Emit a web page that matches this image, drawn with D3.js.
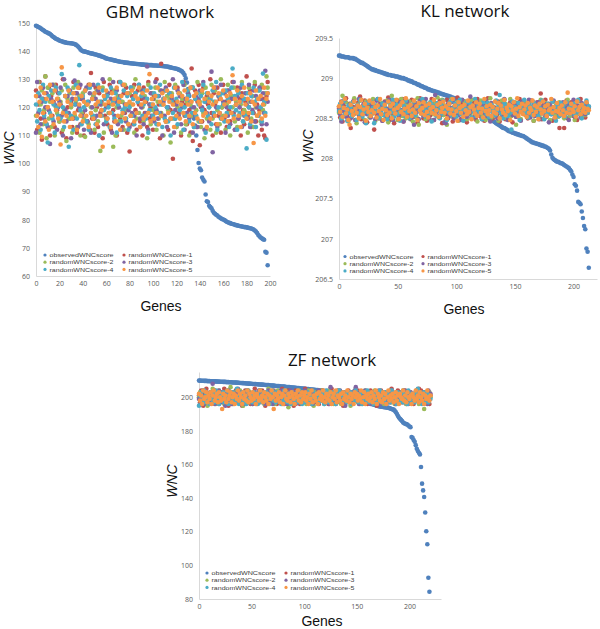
<!DOCTYPE html>
<html><head><meta charset="utf-8">
<script src="https://cdn.jsdelivr.net/npm/d3@7"></script>
<style>
body{margin:0;background:#fff;}
svg{display:block;font-family:"Open Sans",sans-serif;}
</style></head><body>
<svg id="chart" width="600" height="629"></svg>
<script>
// ---------- series names ----------
const seriesNames = ["observedWNCscore","randomWNCscore-1","randomWNCscore-2","randomWNCscore-3","randomWNCscore-4","randomWNCscore-5"];

// ---------- tick labels ----------
const gbmXTicks = [0,20,40,60,80,100,120,140,160,180,200];
const gbmYTicks = [60,70,80,90,100,110,120,130,140,150];
const klXTicks = [0,50,100,150,200];
const klYTicks = [206.5,207,207.5,208,208.5,209,209.5];
const zfXTicks = [0,50,100,150,200];
const zfYTicks = [80,100,120,140,160,180,200];

// ---------- GBM network ----------
const gbmObserved = [149,148.8,148.6,148.4,148.1,147.8,147.5,147.2,146.9,146.7,
146.5,146.3,146.1,145.7,145.3,145,144.7,144.4,144.2,144,
143.8,143.6,143.5,143.3,143.2,143.1,143,142.9,142.9,142.8,
142.8,142.7,142.6,142.5,142.3,142,141.6,141.2,140.6,140.2,
140,139.9,139.8,139.7,139.6,139.4,139.3,139.2,139.1,139,
138.9,138.8,138.7,138.5,138.4,138.3,138.1,138,137.8,137.6,
137.4,137.3,137.2,137.1,137,136.9,136.8,136.7,136.6,136.5,
136.4,136.3,136.2,136.1,136.1,136,135.9,135.9,135.8,135.8,
135.7,135.7,135.6,135.6,135.5,135.5,135.4,135.4,135.3,135.3,
135.2,135.2,135.2,135.1,135.1,135.1,135,135,135,135,
134.9,134.9,134.9,134.9,134.8,134.8,134.8,134.7,134.7,134.6,
134.6,134.5,134.5,134.4,134.3,134.2,134.1,134,133.9,133.8,
133.7,133.6,133.4,133.2,133,132.7,132.2,131.5,130.3,128.8,
126.5,124,122,120,118,116,113.5,110,104.8,100.2,
98.2,97.6,95,94.2,93.6,89,86.6,86.3,85,84.5,
84.1,83.2,82.5,82.1,81.8,81.5,81.1,80.8,80.5,80.3,
80.1,79.9,79.6,79.3,79.1,78.9,78.8,78.6,78.5,78.4,
78.2,78.1,78,77.9,77.8,77.7,77.6,77.5,77.4,77.4,
77.3,77.2,77.1,77,76.9,76.7,76.5,76.2,75.8,75.3,
74.6,74.1,73.7,73.4,73.1,72.9,68.6,68.3,63.8];
const gbmRandom1 = [126,112,121,129,116,108.5,123,118,131,114,
120,127,110,124,117,122,113,128,119,125,
115,121,111,130,118,124,109,120,126,116,
122,113,129,117,125,111,119,127,114,123,
118,110,126,121,115,128,112,132.2,116,124,
111,127,120,113,125,118,122,109,129,117,
124,114,121,128,112,126,119,115,123,110,
120,129,116,122,113,125,118,127,111,121,
104.3,117,124,114,128,119,112,126,121,115,
123,110,127,118,122,113,129,116,120,125,
112,124,118,130,114,121,109,135.5,117,123,
126,115,120,112,128,119,124,101.7,122,116,
113,127,118,124,110,122,129,117,121,114,
125,119,111,133.8,108,118,126,113,122,128,
106.5,120,115,127,119,112,124,121,116,130,
118,110,125,121,114,127,117,123,111,120,
128,116,122,113,126,119,115,124,129,118,
112,121,127,116,123,110,125,119,114,122,
131,117,120,126,113,124,118,128,115,121,
110,119,127,112,123,110,109,124,129];
const gbmRandom2 = [117,124,129,111,121,126,114,119,131,109,
127,116,122,113,125,128,110,120,118,123,
115,122,126,112,119,128,108,123,116,125,
120,111,127,117,122,113,129,124,110,118,
125,116,109.5,121,127,114,128,120,117,124,
112,119,126,115,122,104.5,121,127,111,123,
116,125,118,130,113,121,106,126,110,120,
124,115,129,117,122,112,128,119,121,114,
125,117,121,127,111,130,116,123,118,113,
126,120,115,124,117,109,128,121,114,125,
119,123,127,112,122,116,126,118,121,110,
129,115,124,119,123,107.5,125,116,121,128,
113,120,117,125,111,123,118,128,114,122,
126,110,121,117,127,113,124,119,129,115,
122,113,125,118,109,127,116,123,120,112,
128,116,122,126,111,119,124,114,130,120,
117,125,112,121,128,118,110,124,120,127,
115,122,113,126,117,121,129,115,119,125,
118,111,127,122,116,124,113,129,120,117,
126,123,115,128,119,121,125,131,127];
const gbmRandom3 = [111,129,118,124,114,122,127,116,120,125,
113,119,107,123,128,115,121,126,112,120,
122,127,117,110,130,119,115,124,118,126,
109,123,116,129.5,121,125,113,120,128,117,
123,112,119,127,115,122,125,111,120,128,
116,123,117,126,110,121,119,130,114,124,
120,116,125,118,123,111,129,117,122,126,
114,120,124,112,128,118,121,115,125,119,
113,127,118,123,117,125,110,122,128,116,
120,126,114,123,118,134.5,112,121,125,117,
123,115,129,119,116,124,118,126,110,122,
117,127,113,120,125,116,123,130,111,119,
121,126,117,124,114,120,128,112,123,118,
125,116,122,127,111,120,117,124,113,123,
126,115,120,129,112,122,118,125,115,123,
132.7,104,117,127,120,113,124,118,128,116,
122,125,111,120,117,126,114,123,118,129,
112,121,124,116,120,127,113,123,117,125,
121,116,128,113,122,119,126,115,124,120,
117,127,123,114,125,118,133,114,122];
const gbmRandom4 = [121,115,125,119,112,123,128,117,122,114,
107.5,124,118,126,116,121,111,127,120,117,
125,116,131.8,120,113,124,118,127,106,122,
117,125,112,121,128,116,123,135,119,114,
124,120,126,115,122,112,127,118,123,117,
125,114,121,128,110,122,117,126,119,123,
115,124,120,113,127,118,122,116,125,111,
121,123,129,115,119,126,120,116,124,112,
120,127,117,123,114,125,118,122,128,113,
124,117,121,126,116,123,111,119,127,121,
117,125,120,114,124,118,128,121,113,123,
116,126,120,115,125,110,122,118,127,116,
123,114,125,119,121,129,112,120,117,126,
124,115,122,118,127,113,123,117,125,121,
115,124,119,128,122,111,125,117,120,123,
114,126,118,122,129,112,120,124,116,125,
121,115,126,118,123,113,120,127,133.8,117,
124,119,112,125,118,122,128,115,123,117,
105.4,125,120,114,124,118,127,122,113,123,
117,126,120,115,132,122,118,108.5,125];
const gbmRandom5 = [124,117,113,122,127,109.5,118,125,115,123,
120,112,128,117,122,114,126,119,123,116,
121,106.8,134.2,118,115,124,117,122,126,113,
121,116,125,118,123,112,127,121,117,124,
115,122,126,117,121,113,128,118,123,116,
125,121,114,122,127,117,119,106,124,121,
126,116,122,118,113,125,121,123,115,127,
117,122,112,124,118,128,116,121,125,114,
122,117,126,121,115,124,118,123,127,113,
121,125,116,122,117,126,118,131.8,115,123,
121,116,124,118,127,114,122,117,125,121,
123,115,126,118,122,116,124,121,113,127,
117,122,125,116,121,124,118,126,115,123,
121,117,127,122,114,124,118,125,116,122,
121,115,126,117,123,118,113,125,122,116,
124,121,127,117,122,114,125,118,123,116,
126,121,117,124,115,122,125,118,131.4,116,
123,121,126,117,122,113,124,118,127,121,
116,123,118,125,115,122,107.3,121,126,117,
123,118,124,116,121,127,117,123,125];

// ---------- KL network ----------
const klObserved = [209.28,209.28,209.27,209.27,209.27,209.26,209.26,209.26,209.26,209.25,
209.25,209.25,209.25,209.24,209.24,209.23,209.22,209.21,209.2,209.19,
209.19,209.18,209.17,209.16,209.15,209.14,209.13,209.12,209.11,209.11,
209.1,209.1,209.09,209.09,209.08,209.08,209.07,209.07,209.06,209.06,
209.05,209.05,209.04,209.04,209.04,209.03,209.03,209.03,209.02,209.02,
209.02,209.01,209.01,209,209,209,208.99,208.99,208.98,208.97,
208.97,208.96,208.96,208.95,208.94,208.94,208.93,208.92,208.92,208.91,
208.9,208.9,208.89,208.88,208.88,208.87,208.86,208.86,208.85,208.85,
208.84,208.84,208.83,208.83,208.82,208.82,208.81,208.81,208.8,208.8,
208.79,208.79,208.78,208.78,208.77,208.77,208.76,208.76,208.75,208.75,
208.74,208.74,208.73,208.73,208.72,208.71,208.71,208.7,208.69,208.69,
208.68,208.67,208.66,208.65,208.64,208.63,208.62,208.61,208.6,208.59,
208.58,208.57,208.56,208.55,208.54,208.53,208.52,208.51,208.5,208.49,
208.48,208.47,208.46,208.45,208.44,208.43,208.42,208.41,208.4,208.39,
208.38,208.38,208.37,208.36,208.35,208.34,208.34,208.33,208.32,208.32,
208.31,208.31,208.3,208.3,208.29,208.29,208.28,208.28,208.27,208.26,
208.25,208.24,208.23,208.22,208.21,208.2,208.2,208.19,208.19,208.18,
208.18,208.17,208.17,208.16,208.16,208.15,208.15,208.14,208.13,208.12,
208.1,208.05,208.01,207.99,207.98,207.97,207.96,207.96,207.95,207.94,
207.94,207.93,207.92,207.91,207.9,207.89,207.88,207.86,207.84,207.8,
207.77,207.68,207.66,207.6,207.46,207.45,207.43,207.34,207.26,207.16,
207.12,206.88,206.84,206.64];
const klRandom1 = [208.62,208.51,208.71,208.46,208.66,208.57,208.75,208.53,208.6,208.68,
208.38,208.58,208.64,208.73,208.48,208.61,208.69,208.54,208.77,208.49,
208.65,208.56,208.72,208.59,208.45,208.67,208.62,208.52,208.7,208.58,
208.36,208.63,208.55,208.74,208.5,208.68,208.59,208.47,208.65,208.71,
208.53,208.61,208.76,208.48,208.66,208.56,208.69,208.44,208.63,208.58,
208.72,208.51,208.67,208.6,208.74,208.46,208.62,208.55,208.7,208.57,
208.64,208.49,208.73,208.59,208.52,208.68,208.61,208.45,208.66,208.75,
208.56,208.63,208.5,208.71,208.58,208.47,208.67,208.62,208.54,208.74,
208.6,208.48,208.69,208.57,208.65,208.52,208.72,208.59,208.44,208.66,
208.61,208.55,208.73,208.5,208.64,208.58,208.7,208.46,208.62,208.68,
208.53,208.76,208.57,208.63,208.49,208.67,208.6,208.71,208.55,208.45,
208.65,208.59,208.72,208.51,208.62,208.69,208.54,208.48,208.74,208.58,
208.66,208.52,208.61,208.7,208.47,208.63,208.57,208.75,208.53,208.67,
208.6,208.5,208.64,208.58,208.81,208.55,208.71,208.46,208.62,208.68,
208.57,208.73,208.49,208.65,208.6,208.54,208.7,208.63,208.45,208.66,
208.59,208.52,208.69,208.61,208.74,208.48,208.64,208.56,208.71,208.58,
208.63,208.5,208.67,208.55,208.72,208.6,208.47,208.65,208.58,208.7,
208.54,208.62,208.81,208.49,208.66,208.59,208.73,208.52,208.61,208.68,
208.56,208.64,208.47,208.71,208.58,208.63,208.53,208.69,208.38,208.6,
208.66,208.55,208.38,208.62,208.72,208.5,208.64,208.57,208.7,208.59,
208.53,208.67,208.61,208.48,208.65,208.58,208.74,208.55,208.63,208.6,
208.51,208.68,208.57,208.64];
const klRandom2 = [208.57,208.66,208.49,208.78,208.61,208.54,208.7,208.59,208.46,208.64,
208.68,208.52,208.62,208.75,208.56,208.44,208.67,208.6,208.72,208.53,
208.59,208.65,208.48,208.71,208.57,208.63,208.51,208.69,208.55,208.74,
208.62,208.47,208.66,208.58,208.73,208.5,208.61,208.69,208.54,208.64,
208.56,208.72,208.45,208.6,208.67,208.78,208.52,208.63,208.58,208.7,
208.48,208.65,208.59,208.74,208.53,208.61,208.68,208.5,208.66,208.57,
208.71,208.55,208.63,208.46,208.69,208.6,208.52,208.75,208.42,208.62,
208.58,208.67,208.53,208.72,208.49,208.64,208.6,208.56,208.7,208.47,
208.63,208.55,208.68,208.59,208.76,208.51,208.62,208.57,208.73,208.54,
208.66,208.48,208.42,208.61,208.69,208.56,208.74,208.52,208.64,208.59,
208.6,208.7,208.47,208.65,208.57,208.63,208.53,208.71,208.58,208.49,
208.67,208.61,208.55,208.73,208.5,208.64,208.59,208.68,208.46,208.62,
208.57,208.72,208.54,208.6,208.66,208.48,208.7,208.56,208.63,208.75,
208.51,208.65,208.58,208.61,208.53,208.69,208.47,208.64,208.6,208.72,
208.55,208.62,208.68,208.5,208.66,208.58,208.74,208.53,208.61,208.57,
208.7,208.42,208.64,208.56,208.67,208.49,208.63,208.59,208.72,208.54,
208.61,208.68,208.52,208.65,208.58,208.71,208.47,208.62,208.56,208.66,
208.6,208.53,208.73,208.57,208.64,208.5,208.69,208.55,208.62,208.67,
208.48,208.63,208.59,208.71,208.54,208.66,208.58,208.52,208.7,208.61,
208.57,208.64,208.5,208.68,208.56,208.73,208.6,208.53,208.65,208.59,
208.62,208.48,208.67,208.55,208.71,208.58,208.64,208.51,208.66,208.6,
208.54,208.69,208.57,208.63];
const klRandom3 = [208.64,208.55,208.46,208.69,208.59,208.73,208.52,208.62,208.57,208.67,
208.5,208.61,208.71,208.56,208.48,208.65,208.59,208.74,208.53,208.63,
208.58,208.68,208.45,208.62,208.55,208.7,208.6,208.51,208.66,208.57,
208.63,208.49,208.72,208.58,208.54,208.67,208.61,208.47,208.65,208.7,
208.55,208.62,208.52,208.73,208.59,208.64,208.48,208.68,208.57,208.61,
208.66,208.53,208.7,208.6,208.56,208.46,208.63,208.58,208.71,208.54,
208.6,208.67,208.51,208.64,208.42,208.69,208.57,208.62,208.49,208.72,
208.58,208.65,208.53,208.61,208.74,208.56,208.63,208.5,208.67,208.59,
208.62,208.48,208.79,208.55,208.66,208.6,208.52,208.7,208.57,208.64,
208.45,208.44,208.61,208.68,208.53,208.63,208.58,208.71,208.5,208.65,
208.59,208.67,208.54,208.62,208.48,208.73,208.57,208.64,208.6,208.52,
208.68,208.56,208.77,208.59,208.63,208.51,208.66,208.58,208.7,208.55,
208.61,208.64,208.49,208.67,208.57,208.72,208.53,208.6,208.65,208.46,
208.69,208.58,208.62,208.55,208.71,208.5,208.64,208.59,208.67,208.53,
208.6,208.74,208.56,208.63,208.48,208.66,208.58,208.7,208.54,208.61,
208.65,208.52,208.68,208.59,208.63,208.47,208.71,208.57,208.62,208.66,
208.55,208.6,208.73,208.51,208.64,208.58,208.69,208.53,208.62,208.57,
208.7,208.49,208.65,208.6,208.56,208.68,208.52,208.63,208.59,208.45,
208.67,208.55,208.61,208.72,208.5,208.64,208.58,208.66,208.53,208.62,
208.59,208.7,208.54,208.63,208.57,208.68,208.48,208.61,208.65,208.56,
208.73,208.52,208.6,208.66,208.58,208.63,208.51,208.69,208.57,208.62,
208.55,208.67,208.6,208.64];
const klRandom4 = [208.59,208.68,208.5,208.63,208.72,208.55,208.61,208.47,208.66,208.57,
208.64,208.53,208.7,208.58,208.62,208.48,208.67,208.56,208.73,208.6,
208.52,208.65,208.58,208.44,208.69,208.61,208.55,208.71,208.57,208.63,
208.44,208.66,208.59,208.74,208.51,208.62,208.57,208.68,208.54,208.65,
208.6,208.49,208.7,208.56,208.64,208.58,208.73,208.52,208.61,208.67,
208.55,208.63,208.47,208.69,208.59,208.66,208.53,208.72,208.58,208.62,
208.5,208.67,208.6,208.56,208.71,208.54,208.64,208.48,208.65,208.59,
208.62,208.74,208.55,208.61,208.52,208.68,208.57,208.63,208.7,208.46,
208.66,208.58,208.64,208.53,208.69,208.6,208.5,208.67,208.56,208.72,
208.59,208.63,208.48,208.65,208.57,208.71,208.54,208.62,208.6,208.68,
208.52,208.66,208.58,208.73,208.55,208.61,208.47,208.64,208.59,208.7,
208.56,208.62,208.68,208.51,208.65,208.58,208.74,208.53,208.6,208.66,
208.57,208.63,208.49,208.7,208.59,208.64,208.55,208.69,208.52,208.61,
208.67,208.58,208.62,208.54,208.72,208.6,208.65,208.79,208.56,208.63,
208.5,208.68,208.59,208.66,208.53,208.62,208.57,208.36,208.71,208.58,
208.64,208.55,208.61,208.69,208.48,208.65,208.6,208.56,208.73,208.57,
208.62,208.51,208.67,208.59,208.64,208.54,208.7,208.58,208.61,208.66,
208.53,208.63,208.57,208.72,208.6,208.49,208.65,208.56,208.68,208.59,
208.62,208.55,208.71,208.58,208.64,208.47,208.67,208.61,208.53,208.69,
208.57,208.65,208.6,208.52,208.7,208.58,208.63,208.55,208.66,208.61,
208.68,208.54,208.62,208.59,208.73,208.56,208.64,208.5,208.67,208.58,
208.63,208.72,208.57,208.65];
const klRandom5 = [208.65,208.58,208.7,208.52,208.63,208.74,208.56,208.61,208.48,208.42,
208.67,208.59,208.54,208.71,208.62,208.57,208.66,208.5,208.64,208.73,
208.55,208.61,208.68,208.47,208.63,208.58,208.72,208.53,208.6,208.69,
208.57,208.64,208.51,208.66,208.59,208.74,208.55,208.62,208.48,208.67,
208.6,208.54,208.71,208.57,208.65,208.5,208.68,208.61,208.56,208.73,
208.63,208.49,208.66,208.58,208.7,208.55,208.62,208.75,208.52,208.64,
208.59,208.67,208.53,208.61,208.72,208.57,208.65,208.48,208.69,208.6,
208.56,208.63,208.7,208.54,208.66,208.58,208.51,208.68,208.62,208.57,
208.64,208.73,208.55,208.6,208.67,208.52,208.69,208.58,208.63,208.71,
208.57,208.65,208.5,208.62,208.68,208.56,208.61,208.74,208.54,208.66,
208.59,208.47,208.7,208.63,208.57,208.65,208.52,208.67,208.6,208.55,
208.72,208.58,208.64,208.49,208.66,208.61,208.56,208.7,208.53,208.63,
208.68,208.57,208.62,208.51,208.74,208.59,208.65,208.55,208.6,208.67,
208.53,208.64,208.58,208.71,208.56,208.62,208.69,208.5,208.66,208.61,
208.57,208.73,208.54,208.63,208.59,208.67,208.48,208.65,208.6,208.7,
208.56,208.62,208.75,208.53,208.64,208.58,208.68,208.55,208.61,208.66,
208.52,208.69,208.57,208.63,208.6,208.72,208.54,208.66,208.58,208.64,
208.49,208.68,208.61,208.56,208.71,208.59,208.65,208.53,208.67,208.6,
208.62,208.74,208.57,208.64,208.51,208.59,208.69,208.58,208.63,208.55,
208.66,208.6,208.53,208.7,208.57,208.82,208.62,208.56,208.68,208.61,
208.58,208.65,208.52,208.71,208.6,208.64,208.55,208.67,208.59,208.63,
208.57,208.7,208.62,208.6];

// ---------- ZF network ----------
const zfObserved = [209.9,209.9,209.8,209.8,209.8,209.7,209.7,209.7,209.6,209.6,
209.6,209.5,209.5,209.5,209.4,209.4,209.4,209.3,209.3,209.3,
209.2,209.2,209.2,209.1,209.1,209.1,209,209,209,208.9,
208.9,208.9,208.8,208.8,208.8,208.7,208.7,208.6,208.6,208.5,
208.5,208.4,208.4,208.3,208.3,208.2,208.2,208.1,208.1,208,
208,207.9,207.9,207.8,207.8,207.7,207.7,207.6,207.6,207.5,
207.5,207.4,207.4,207.3,207.3,207.2,207.2,207.1,207,207,
206.9,206.9,206.8,206.7,206.7,206.6,206.6,206.5,206.4,206.4,
206.3,206.3,206.2,206.1,206.1,206,206,205.9,205.8,205.8,
205.7,205.6,205.6,205.5,205.4,205.4,205.3,205.2,205.2,205.1,
205,205,204.9,204.8,204.8,204.7,204.6,204.6,204.5,204.4,
204.4,204.3,204.2,204.2,204.1,204,203.9,203.9,203.8,203.7,
203.6,203.6,203.5,203.4,203.3,203.2,203.2,203.1,203,202.9,
202.8,202.7,202.6,202.5,202.4,202.3,202.2,202.1,202,201.9,
201.8,201.6,201.5,201.3,201.2,201,200.8,200.6,200.4,200.2,
200,199.8,199.6,199.3,199,198.7,198.4,198.1,197.8,197.5,
197.2,196.9,196.6,196.3,196,195.8,195.6,195.4,195.2,195,
194.8,194.7,194.5,194.4,194.3,194.2,194.1,194,193.9,193.8,
193.7,193.5,193.3,193,192.8,192.6,192,191.2,190.2,189,
187.9,187.2,186.5,185.8,185,184.5,184.2,184,183.8,183.2,
182.6,182.2,176.3,175.8,174.6,173.5,171.5,169.4,168,167,
166,158.5,148.6,144.6,140.7,131.4,120.3,112.6,92.6,84.3];
const zfRandom1 = [201,197,204,199,195,202,200,205,198,201,
196,203,199,201,197,204,200,198,202,196,
199,203,201,197,205,200,198,202,195,201,
203,199,196,202,200,204,197,201,199,203,
198,195,202,200,204,199,197,201,203,196,
200,202,198,205,199,196,201,203,197,200,
204,198,201,195,202,199,203,197,200,201,
197,204,199,202,196,200,203,198,201,205,
199,196,202,200,197,204,198,201,203,199,
195,201,204,198,200,202,196,199,203,201,
198,205,200,197,202,199,201,196,204,200,
197,202,199,203,196,201,198,204,200,197,
203,199,201,196,202,200,205,198,199,203,
196,201,204,199,197,202,200,195,203,198,
201,199,204,197,200,202,196,201,203,199,
198,204,200,196,202,199,201,197,203,200,
196,202,199,204,198,201,197,203,200,195,
202,199,201,204,197,200,198,203,196,201,
199,203,197,205,200,198,202,196,201,204,
198,200,203,197,201,199,204,196,202,200,
197,203,199,201,196,202,200,198,204,205,
199,204,197,201,199,203,198,200,202,196,
201];
const zfRandom2 = [200,203,196,201,204,198,199,202,195,201,
197,203,200,205,198,201,196,202,199,204,
197,201,203,199,196,202,200,198,204,201,
206,198,202,196,200,203,199,201,197,204,
199,202,195,201,203,198,200,204,197,202,
199,196,203,201,198,202,200,197,204,199,
201,203,196,200,202,198,205,199,201,197,
203,200,196,202,199,204,198,201,200,196,
202,199,204,197,201,194,203,199,200,202,
196,201,203,198,200,204,197,202,199,201,
198,203,196,201,204,199,197,202,200,195,
203,199,201,197,202,200,204,198,201,196,
200,202,199,204,197,201,198,203,196,200,
202,198,201,204,199,196,203,200,198,202,
197,201,203,199,195,202,200,198,204,201,
199,197,202,200,203,196,201,199,204,198,
201,203,197,200,202,199,196,204,201,198,
203,200,197,202,199,201,196,203,200,198,
202,199,204,197,201,200,196,203,198,201,
199,202,197,200,204,198,201,196,202,200,
203,199,197,201,200,202,198,204,199,196,
200,203,198,201,193,202,199,201,197,203,
200];
const zfRandom3 = [199,202,197,201,204,196,200,203,198,201,
197,203,200,208,199,196,202,201,198,204,
200,197,203,199,201,195,202,199,204,198,
201,196,203,200,198,202,199,205,197,201,
203,199,196,202,200,198,204,197,201,199,
202,196,200,203,198,201,197,204,199,202,
200,198,203,196,201,199,204,197,202,200,
196,203,199,201,198,202,200,197,204,199,
201,197,203,200,196,202,199,204,198,201,
199,203,196,201,200,198,203,197,202,199,
201,204,198,200,197,202,199,203,196,201,
198,202,200,197,204,199,201,198,203,200,
197,202,199,201,196,206,200,203,198,201,
199,197,202,200,204,198,201,196,203,195,
200,202,198,201,197,203,199,200,204,206,
198,201,196,203,199,202,200,197,204,198,
202,199,201,196,203,200,198,202,197,201,
199,204,196,202,200,198,203,197,201,199,
202,197,200,204,198,201,199,196,203,200,
198,202,199,201,197,204,200,198,202,196,
201,203,199,197,202,200,198,204,201,199,
202,197,200,203,198,201,199,196,204,200,
202];
const zfRandom4 = [195,201,203,198,200,204,197,202,199,201,
196,203,200,198,202,197,204,199,201,196,
202,198,200,203,197,201,199,204,196,202,
200,197,203,199,201,198,205,200,196,202,
199,203,197,201,200,196,204,198,202,199,
201,197,203,200,198,202,196,201,204,199,
197,202,200,198,203,199,201,196,202,200,
204,198,201,197,203,199,200,202,196,201,
198,204,199,201,197,202,200,196,203,199,
201,198,202,200,204,197,199,203,196,201,
200,197,202,199,203,198,201,196,204,200,
198,202,199,201,197,203,200,198,202,196,
201,204,199,197,202,200,198,203,199,201,
196,202,200,204,198,201,197,203,199,200,
202,197,201,199,203,196,200,202,198,204,
199,201,197,202,200,196,203,199,201,198,
204,200,197,202,199,201,196,203,200,198,
202,199,204,197,201,200,198,203,196,202,
199,201,197,204,200,198,202,199,196,203,
201,198,200,203,197,202,199,201,196,204,
200,198,202,199,201,197,203,200,205,198,
202,199,196,201,203,198,200,202,197,201,
199];
const zfRandom5 = [202,198,201,196,204,199,200,203,197,201,
199,203,196,201,204,198,200,202,197,203,
200,198,193,202,199,201,197,204,199,201,
203,197,200,202,196,201,199,204,198,202,
200,196,203,199,201,198,204,197,202,200,
198,203,199,201,196,202,200,198,204,199,
201,197,203,200,198,202,196,201,199,204,
200,193,202,198,201,199,203,197,200,202,
196,201,204,199,198,202,200,197,203,201,
199,196,202,200,204,198,201,197,203,199,
201,203,198,200,196,202,199,204,197,201,
200,198,202,196,203,199,201,198,204,200,
197,202,199,201,198,203,196,200,202,199,
204,197,201,200,198,202,196,203,199,201,
198,204,200,197,202,199,201,196,203,200,
202,198,201,199,204,197,200,203,196,201,
199,202,198,200,203,197,201,199,204,196,
202,200,198,201,197,203,199,202,196,200,
204,198,201,199,202,197,200,203,198,201,
196,202,200,199,204,198,201,197,203,200,
199,201,196,202,200,198,204,199,201,197,
203,200,198,202,196,201,199,204,200,198,
201];

// ---------- styling / layout ----------
const colors = ["#4F81BD","#C0504D","#9BBB59","#8064A2","#4BACC6","#F79646"];
const panels = [
  {title:"GBM network", obs:gbmObserved, rand:[gbmRandom1,gbmRandom2,gbmRandom3,gbmRandom4,gbmRandom5],
   xTicks:gbmXTicks, yTicks:gbmYTicks, xDomain:[0,200], yDomain:[60,150],
   left:36, right:270, top:23, bottom:276, titleX:160, titleY:18, genesX:161, genesY:311, wncX:13.5, wncY:148,
   legX1:45, legX2:124, legY:255},
  {title:"KL network", obs:klObserved, rand:[klRandom1,klRandom2,klRandom3,klRandom4,klRandom5],
   xTicks:klXTicks, yTicks:klYTicks, xDomain:[0,220], yDomain:[206.5,209.5],
   left:339, right:597, top:38, bottom:279, titleX:465, titleY:17, genesX:464, genesY:314, wncX:313, wncY:146,
   legX1:345, legX2:423, legY:256.5},
  {title:"ZF network", obs:zfObserved, rand:[zfRandom1,zfRandom2,zfRandom3,zfRandom4,zfRandom5],
   xTicks:zfXTicks, yTicks:zfYTicks, xDomain:[0,230], yDomain:[80,215],
   left:199, right:441, top:372, bottom:599, titleX:332, titleY:366, genesX:322, genesY:625.5, wncX:177, wncY:481,
   legX1:207, legX2:286, legY:573}
];

const svg = d3.select("#chart");
const axisColor = "#D9D9D9", tickText = "#595959";

panels.forEach(p => {
  const g = svg.append("g");
  const x = d3.scaleLinear().domain(p.xDomain).range([p.left, p.right]);
  const y = d3.scaleLinear().domain(p.yDomain).range([p.bottom, p.top]);

  const ya = g.append("g").attr("transform", `translate(${p.left},0)`)
    .call(d3.axisLeft(y).tickValues(p.yTicks).tickFormat(d => String(d)).tickSize(0).tickSizeOuter(0).tickPadding(6));
  const xa = g.append("g").attr("transform", `translate(0,${p.bottom})`)
    .call(d3.axisBottom(x).tickValues(p.xTicks).tickFormat(d => String(d)).tickSize(0).tickSizeOuter(0).tickPadding(5));
  [ya, xa].forEach(a => {
    a.select(".domain").attr("stroke", axisColor).attr("stroke-width", 1);
    a.selectAll("text").attr("fill", tickText).attr("font-size", 7).attr("font-family", "Open Sans");
  });

  // observed first, then random series drawn on top
  const all = [p.obs].concat(p.rand);
  all.forEach((vals, si) => {
    g.append("g").selectAll("circle").data(vals).join("circle")
      .attr("cx", (d, i) => x(i))
      .attr("cy", d => y(d))
      .attr("r", 2.3)
      .attr("fill", colors[si]);
  });

  g.append("text").attr("x", p.titleX).attr("y", p.titleY).attr("text-anchor", "middle")
    .attr("font-size", 17).attr("fill", "#111").text(p.title);
  g.append("text").attr("x", p.genesX).attr("y", p.genesY).attr("text-anchor", "middle")
    .attr("font-family", "Liberation Sans").attr("font-size", 14).attr("fill", "#111").text("Genes");
  g.append("text").attr("transform", `translate(${p.wncX},${p.wncY}) rotate(-90)`).attr("text-anchor", "middle")
    .attr("font-family", "Liberation Sans").attr("font-size", 14).attr("font-style", "italic").attr("fill", "#111").text("WNC");

  // legend: 2 columns x 3 rows
  seriesNames.forEach((name, si) => {
    const col = si % 2, row = Math.floor(si / 2);
    const lx = col === 0 ? p.legX1 : p.legX2;
    const ly = p.legY + row * 7.2;
    g.append("circle").attr("cx", lx).attr("cy", ly).attr("r", 1.6).attr("fill", colors[si]);
    g.append("text").attr("x", lx + 4.5).attr("y", ly + 2.2)
      .attr("font-family", "Liberation Sans").attr("font-size", 6.2)
      .attr("textLength", 64).attr("lengthAdjust", "spacingAndGlyphs")
      .attr("fill", "#404040").text(name);
  });
});
</script>
</body></html>
